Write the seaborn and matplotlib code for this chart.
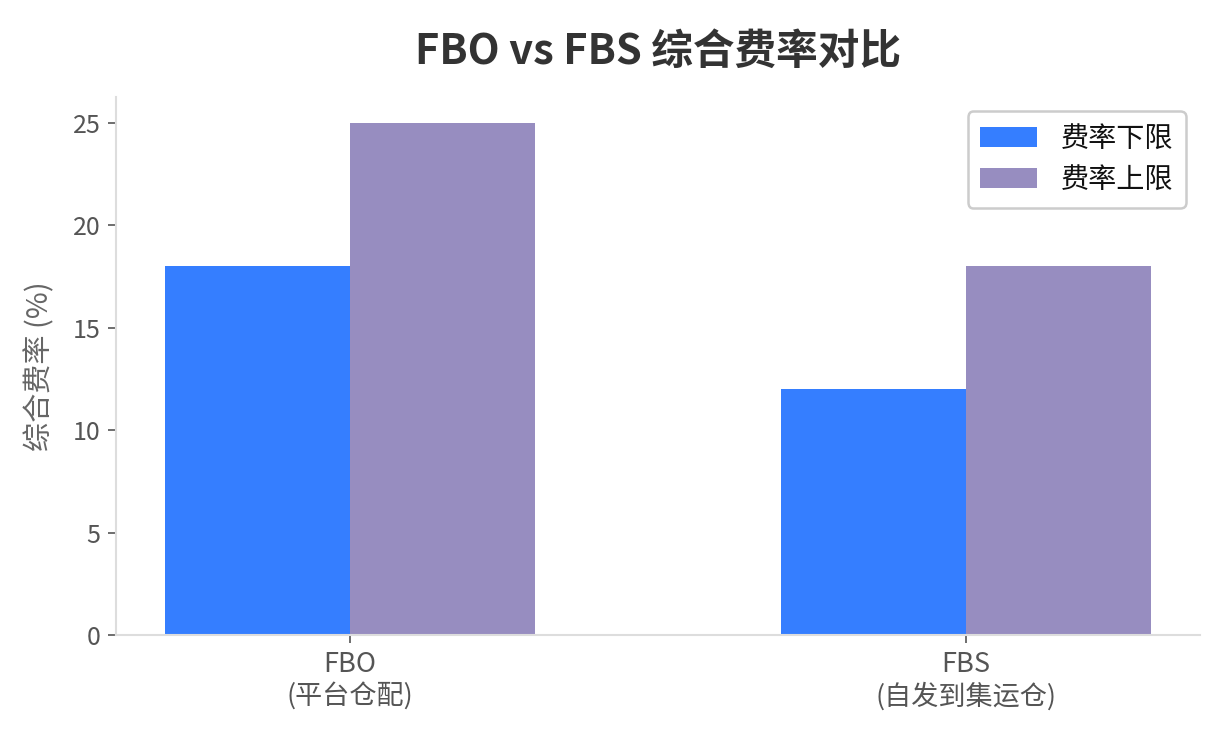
import matplotlib
matplotlib.use("Agg")
import matplotlib.pyplot as plt
import seaborn as sns
import pandas as pd

categories = ["FBO\n(平台仓配)", "FBS\n(自发到集运仓)"]
series_names = ["费率下限", "费率上限"]
lower_values = [18, 12]
upper_values = [25, 18]
colors = ["#357EFF", "#978DC0"]

df = pd.DataFrame({
    "category": categories * 2,
    "series": [series_names[0]] * 2 + [series_names[1]] * 2,
    "value": lower_values + upper_values,
})

sns.set_theme(style="white")
plt.rcParams['font.family'] = ['Noto Sans CJK SC', 'DejaVu Sans']

fig = plt.figure(figsize=(1221 / 150, 736 / 150), dpi=150)
ax = fig.add_axes([0.095, 0.137, 0.888, 0.731])

sns.barplot(data=df, x="category", y="value", hue="series", palette=colors,
            width=0.6, saturation=1, ax=ax, edgecolor="none", linewidth=0)

ax.set_title("FBO vs FBS 综合费率对比", fontsize=20, fontweight="bold", color="#333333", pad=16)
ax.set_xlabel("")
ax.set_ylabel("综合费率 (%)", fontsize=14, color="#666666", labelpad=8)
ax.tick_params(axis="both", colors="#555555", length=4, width=0.8,
               left=True, bottom=True)
ax.tick_params(axis="y", labelsize=12)
ax.tick_params(axis="x", labelsize=13)
for lab in ax.get_xticklabels() + ax.get_yticklabels():
    lab.set_color("#555555")
for s in ["top", "right"]:
    ax.spines[s].set_visible(False)
for s in ["left", "bottom"]:
    ax.spines[s].set_color("#dddddd")
    ax.spines[s].set_linewidth(1)
ax.margins(x=0.05, y=0.05)

leg = ax.legend(loc="upper right", fontsize=13.5, frameon=True, fancybox=True,
                edgecolor="#cccccc", framealpha=1, handlelength=2.0, handleheight=0.7,
                handletextpad=0.85, borderpad=0.45, labelspacing=0.4,
                bbox_to_anchor=(0.9995, 1.0))
leg.get_frame().set_linewidth(1.2)
for t in leg.get_texts():
    t.set_color("#111111")

fig.savefig("out.png", dpi=150)
